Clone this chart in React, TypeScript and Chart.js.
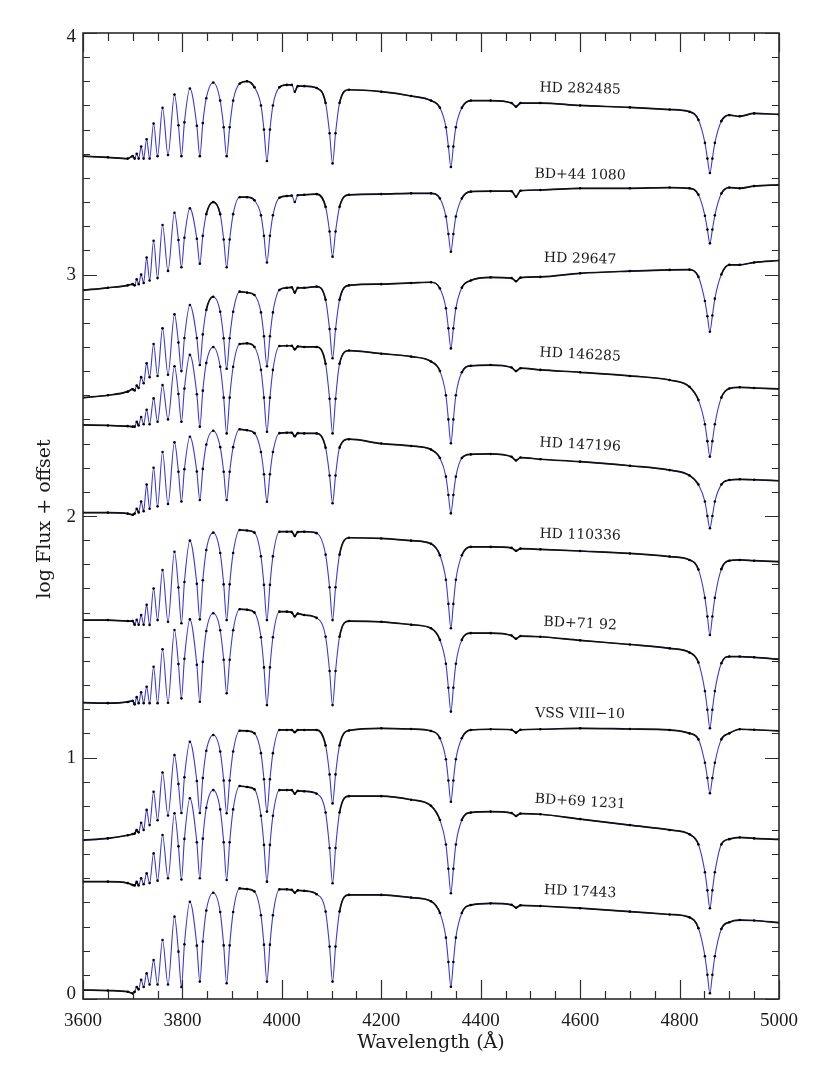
import React, { useEffect, useRef } from "react";
import { Chart, registerables } from "chart.js";

Chart.register(...registerables);

// Shared wavelength grid (Å)
const WAVELENGTHS = [
  3600, 3650, 3690, 3700, 3704, 3708, 3712, 3717, 3722, 3728,
  3734, 3742, 3750, 3760, 3771, 3784, 3792, 3798, 3804, 3815,
  3829, 3835, 3841, 3848, 3862, 3876, 3883, 3889, 3895, 3902,
  3915, 3930, 3945, 3958, 3964, 3970, 3976, 3982, 3995, 4010,
  4020, 4026, 4032, 4045, 4070, 4088, 4096, 4102, 4108, 4116,
  4135, 4200, 4260, 4300, 4318, 4330, 4335, 4340, 4345, 4350,
  4362, 4380, 4420, 4462, 4471, 4480, 4520, 4600, 4700, 4780,
  4820, 4838, 4851, 4856, 4861, 4866, 4871, 4884, 4900, 4921,
  4950, 5000,
];

const HD_282485 = [
  3.49, 3.485, 3.48, 3.49, 3.48, 3.5, 3.48, 3.53, 3.48, 3.56,
  3.48, 3.625, 3.49, 3.69, 3.495, 3.745, 3.618, 3.49, 3.63, 3.77,
  3.616, 3.49, 3.627, 3.73, 3.795, 3.72, 3.61, 3.49, 3.61, 3.72,
  3.79, 3.8, 3.775, 3.7, 3.6, 3.47, 3.6, 3.7, 3.775, 3.785,
  3.785, 3.757, 3.78, 3.78, 3.772, 3.71, 3.585, 3.46, 3.585, 3.71,
  3.765, 3.757, 3.739, 3.72, 3.69, 3.61, 3.53, 3.445, 3.53, 3.61,
  3.69, 3.72, 3.72, 3.71, 3.695, 3.71, 3.71, 3.7, 3.692, 3.683,
  3.674, 3.64, 3.545, 3.48, 3.42, 3.48, 3.545, 3.635, 3.66, 3.655,
  3.667, 3.663,
];
const BD_44_1080 = [
  2.935, 2.945, 2.955, 2.96, 2.955, 2.98, 2.96, 3.0, 2.965, 3.07,
  2.975, 3.14, 2.985, 3.205, 3.015, 3.256, 3.143, 3.03, 3.152, 3.274,
  3.148, 3.045, 3.16, 3.25, 3.3, 3.25, 3.145, 3.03, 3.145, 3.25,
  3.32, 3.32, 3.307, 3.245, 3.16, 3.05, 3.16, 3.245, 3.318, 3.325,
  3.327, 3.3, 3.328, 3.33, 3.333, 3.28, 3.178, 3.074, 3.178, 3.28,
  3.33, 3.333, 3.336, 3.336, 3.315, 3.24, 3.168, 3.094, 3.168, 3.24,
  3.315, 3.343, 3.345, 3.345, 3.322, 3.347, 3.35, 3.357, 3.357, 3.36,
  3.357, 3.33, 3.243, 3.186, 3.129, 3.186, 3.245, 3.335, 3.36, 3.357,
  3.366, 3.371,
];
const HD_29647 = [
  2.49, 2.5, 2.515, 2.525, 2.52, 2.54, 2.53, 2.575, 2.55, 2.632,
  2.575, 2.712, 2.58, 2.777, 2.585, 2.835, 2.718, 2.6, 2.737, 2.874,
  2.737, 2.625, 2.752, 2.853, 2.908, 2.846, 2.736, 2.61, 2.736, 2.846,
  2.929, 2.925, 2.915, 2.843, 2.744, 2.62, 2.744, 2.843, 2.936, 2.945,
  2.947, 2.925, 2.945, 2.945, 2.95, 2.895, 2.774, 2.653, 2.774, 2.895,
  2.955, 2.96, 2.965, 2.968, 2.942, 2.86, 2.777, 2.694, 2.777, 2.86,
  2.945, 2.975, 2.988, 2.985, 2.972, 2.987, 2.99, 3.005, 3.014, 3.019,
  3.02, 2.99, 2.89, 2.827, 2.763, 2.83, 2.9, 3.0, 3.04, 3.04,
  3.05, 3.058,
];
const HD_146285 = [
  2.377, 2.375, 2.372, 2.37, 2.37, 2.39, 2.375, 2.41, 2.38, 2.44,
  2.38, 2.487, 2.39, 2.542, 2.4, 2.62, 2.505, 2.39, 2.528, 2.667,
  2.504, 2.37, 2.519, 2.634, 2.7, 2.618, 2.49, 2.342, 2.49, 2.618,
  2.712, 2.715, 2.7, 2.605, 2.49, 2.349, 2.49, 2.605, 2.704, 2.705,
  2.705, 2.69, 2.702, 2.7, 2.7, 2.63, 2.485, 2.342, 2.485, 2.63,
  2.685, 2.672, 2.66, 2.64, 2.6, 2.5, 2.4, 2.301, 2.4, 2.5,
  2.595, 2.622, 2.625, 2.615, 2.6, 2.612, 2.605, 2.595, 2.58, 2.563,
  2.535, 2.48, 2.38, 2.31, 2.246, 2.31, 2.38, 2.49, 2.528, 2.533,
  2.53, 2.526,
];
const HD_147196 = [
  2.014, 2.014, 2.01, 2.005, 2.01, 2.03, 2.015, 2.06, 2.02, 2.13,
  2.03, 2.2, 2.04, 2.265, 2.05, 2.305, 2.183, 2.06, 2.194, 2.328,
  2.184, 2.066, 2.195, 2.296, 2.353, 2.285, 2.183, 2.066, 2.183, 2.285,
  2.359, 2.355, 2.343, 2.265, 2.173, 2.059, 2.173, 2.265, 2.343, 2.345,
  2.345, 2.33, 2.343, 2.342, 2.342, 2.283, 2.168, 2.053, 2.168, 2.283,
  2.318, 2.3, 2.29, 2.275, 2.24, 2.163, 2.087, 2.011, 2.087, 2.163,
  2.24, 2.255, 2.257, 2.245, 2.23, 2.242, 2.235, 2.225, 2.208, 2.19,
  2.168, 2.13, 2.06, 2.0, 1.949, 2.0, 2.06, 2.13, 2.149, 2.152,
  2.15, 2.146,
];
const HD_110336 = [
  1.569, 1.569, 1.565, 1.565, 1.55, 1.57, 1.55, 1.59, 1.55, 1.632,
  1.549, 1.7, 1.569, 1.776, 1.562, 1.852, 1.704, 1.556, 1.727, 1.898,
  1.719, 1.572, 1.734, 1.859, 1.931, 1.847, 1.717, 1.569, 1.717, 1.847,
  1.942, 1.94, 1.931, 1.833, 1.715, 1.569, 1.715, 1.833, 1.935, 1.935,
  1.935, 1.917, 1.934, 1.935, 1.929, 1.84, 1.705, 1.569, 1.705, 1.84,
  1.91, 1.907, 1.898, 1.885, 1.837, 1.736, 1.636, 1.535, 1.636, 1.736,
  1.837, 1.872, 1.872, 1.868, 1.856, 1.865, 1.862, 1.855, 1.845, 1.832,
  1.818, 1.778, 1.661, 1.584, 1.507, 1.584, 1.661, 1.78, 1.815, 1.818,
  1.815, 1.811,
];
const BD_71_92 = [
  1.227, 1.225, 1.23, 1.235, 1.22, 1.25, 1.225, 1.27, 1.225, 1.293,
  1.225, 1.376, 1.225, 1.448, 1.227, 1.528, 1.387, 1.245, 1.409, 1.572,
  1.384, 1.231, 1.396, 1.524, 1.597, 1.527, 1.405, 1.266, 1.405, 1.527,
  1.614, 1.612, 1.6, 1.498, 1.373, 1.217, 1.373, 1.498, 1.604, 1.604,
  1.6, 1.584, 1.596, 1.59, 1.578, 1.5, 1.358, 1.217, 1.358, 1.5,
  1.565, 1.562, 1.55, 1.535, 1.487, 1.388, 1.289, 1.19, 1.289, 1.388,
  1.487, 1.515, 1.515, 1.505, 1.492, 1.503, 1.5, 1.485, 1.468, 1.452,
  1.435, 1.393, 1.275, 1.198, 1.121, 1.198, 1.275, 1.39, 1.418, 1.418,
  1.415, 1.407,
];
const VSS_VIII_10 = [
  0.658, 0.665, 0.678, 0.683, 0.685, 0.7, 0.69, 0.73, 0.7, 0.783,
  0.72, 0.858, 0.74, 0.938, 0.76, 1.01, 0.89, 0.77, 0.918, 1.065,
  0.903, 0.77, 0.915, 1.028, 1.093, 1.025, 0.905, 0.769, 0.905, 1.025,
  1.111, 1.11, 1.1, 1.018, 0.91, 0.776, 0.91, 1.018, 1.114, 1.114,
  1.114, 1.105, 1.114, 1.114, 1.114, 1.05, 0.93, 0.81, 0.93, 1.05,
  1.112, 1.121, 1.118, 1.11, 1.08, 0.993, 0.905, 0.817, 0.905, 0.993,
  1.08, 1.114, 1.117, 1.115, 1.103, 1.115, 1.117, 1.121, 1.118, 1.114,
  1.1, 1.075, 0.978, 0.915, 0.852, 0.915, 0.978, 1.075, 1.1, 1.117,
  1.115, 1.11,
];
const BD_69_1231 = [
  0.486, 0.486, 0.48, 0.472, 0.47, 0.485, 0.47, 0.5, 0.475, 0.52,
  0.48, 0.603, 0.49, 0.679, 0.5, 0.769, 0.632, 0.495, 0.663, 0.831,
  0.649, 0.5, 0.664, 0.792, 0.865, 0.785, 0.649, 0.493, 0.649, 0.785,
  0.882, 0.878, 0.868, 0.759, 0.638, 0.486, 0.638, 0.759, 0.865, 0.865,
  0.865, 0.85, 0.862, 0.86, 0.85, 0.772, 0.625, 0.479, 0.625, 0.772,
  0.84, 0.84, 0.825, 0.8, 0.741, 0.64, 0.539, 0.438, 0.539, 0.64,
  0.741, 0.772, 0.776, 0.77, 0.758, 0.768, 0.765, 0.745, 0.72, 0.7,
  0.682, 0.64, 0.525, 0.45, 0.376, 0.45, 0.525, 0.64, 0.662, 0.669,
  0.665, 0.661,
];
const HD_17443 = [
  0.037, 0.035, 0.03, 0.023, 0.03, 0.05, 0.04, 0.08, 0.05, 0.106,
  0.06, 0.161, 0.06, 0.244, 0.06, 0.341, 0.196, 0.05, 0.227, 0.403,
  0.221, 0.072, 0.238, 0.366, 0.44, 0.36, 0.222, 0.065, 0.222, 0.36,
  0.458, 0.455, 0.445, 0.347, 0.225, 0.072, 0.225, 0.347, 0.454, 0.454,
  0.452, 0.44, 0.45, 0.448, 0.434, 0.362, 0.217, 0.072, 0.217, 0.362,
  0.431, 0.431, 0.42, 0.405, 0.356, 0.254, 0.153, 0.051, 0.153, 0.254,
  0.356, 0.389, 0.396, 0.39, 0.378, 0.388, 0.385, 0.376, 0.362, 0.35,
  0.338, 0.293, 0.177, 0.1, 0.024, 0.1, 0.177, 0.29, 0.318, 0.327,
  0.325, 0.316,
];

const STAR_NAMES = [
  "HD 282485", "BD+44 1080", "HD 29647", "HD 146285", "HD 147196",
  "HD 110336", "BD+71 92", "VSS VIII\u221210", "BD+69 1231", "HD 17443",
];
const SPECTRA = [
  HD_282485, BD_44_1080, HD_29647, HD_146285, HD_147196,
  HD_110336, BD_71_92, VSS_VIII_10, BD_69_1231, HD_17443,
];

// Star label anchor (data coords) and tilt (deg)
const LABEL_X = 4600;
const LABEL_Y = [3.768, 3.412, 3.064, 2.667, 2.294, 1.921, 1.553, 1.18, 0.816, 0.443];
const LABEL_TILT = [1.5, 1, 1.5, 3, 3, 1.5, 3, 0.5, 3.5, 2.5];

const X_TICKS = [3600, 3800, 4000, 4200, 4400, 4600, 4800, 5000];
const Y_TICKS = [0, 1, 2, 3, 4];
const X_MIN = 3600;
const X_MAX = 5000;
const Y_MIN = 0;
const Y_MAX = 4;

const MODEL_BLUE = "#3a3ad8";

const framePlugin = {
  id: "frameTicks",
  afterDatasetsDraw(chart: any) {
    const { ctx, chartArea: a, scales } = chart;
    const xs = scales.x;
    const ys = scales.y;
    ctx.save();
    ctx.strokeStyle = "#2b2b2b";
    ctx.lineWidth = 1.6;
    ctx.strokeRect(a.left, a.top, a.right - a.left, a.bottom - a.top);
    ctx.lineWidth = 1.2;
    ctx.beginPath();
    for (let w = X_MIN; w <= X_MAX + 0.1; w += 50) {
      const px = Math.round(xs.getPixelForValue(w)) + 0.5;
      const major = X_TICKS.includes(w);
      const L = major ? 19 : 8;
      ctx.moveTo(px, a.bottom);
      ctx.lineTo(px, a.bottom - L);
      ctx.moveTo(px, a.top);
      ctx.lineTo(px, a.top + L);
    }
    for (let i = 0; i <= 40; i++) {
      const v = i / 10;
      const py = Math.round(ys.getPixelForValue(v)) + 0.5;
      const major = i % 10 === 0;
      const L = major ? 14 : 7;
      ctx.moveTo(a.left, py);
      ctx.lineTo(a.left + L, py);
      ctx.moveTo(a.right, py);
      ctx.lineTo(a.right - L, py);
    }
    ctx.stroke();

    ctx.fillStyle = "#1a1a1a";
    ctx.font = '19px "Liberation Serif"';
    ctx.textAlign = "center";
    ctx.textBaseline = "middle";
    X_TICKS.forEach((w) => {
      ctx.fillText(String(w), xs.getPixelForValue(w), a.bottom + 22);
    });
    ctx.textAlign = "right";
    Y_TICKS.forEach((v) => {
      const py = ys.getPixelForValue(v);
      ctx.fillText(String(v), a.left - 7, v === 0 ? py - 5 : v === 4 ? py + 4 : py + 1);
    });

    ctx.font = '19px "DejaVu Serif"';
    ctx.textAlign = "center";
    ctx.fillText("Wavelength (\u00c5)", (a.left + a.right) / 2, a.bottom + 44);
    ctx.save();
    ctx.translate(a.left - 38, (a.top + a.bottom) / 2 + 3);
    ctx.rotate(-Math.PI / 2);
    ctx.fillText("log Flux + offset", 0, 0);
    ctx.restore();

    ctx.font = '14px "DejaVu Serif"';
    STAR_NAMES.forEach((name, i) => {
      ctx.save();
      ctx.translate(xs.getPixelForValue(LABEL_X), ys.getPixelForValue(LABEL_Y[i]));
      ctx.rotate((LABEL_TILT[i] * Math.PI) / 180);
      ctx.fillText(name, 0, 0);
      ctx.restore();
    });
    ctx.restore();
  },
};

export default function App() {
  const ref = useRef<HTMLCanvasElement | null>(null);
  useEffect(() => {
    if (!ref.current) return;
    const datasets: any[] = [];
    SPECTRA.forEach((flux, i) => {
      const pts = WAVELENGTHS.map((w, k) => ({ x: w, y: flux[k] }));
      datasets.push({
        label: STAR_NAMES[i] + " observed",
        data: pts,
        order: 0,
        borderColor: "#111",
        borderWidth: 1.7,
        pointRadius: 1.3,
        pointBackgroundColor: "#000",
        pointBorderWidth: 0,
        cubicInterpolationMode: "monotone",
        segment: {
          borderColor: (c: any) => {
            const dy = Math.abs(c.p1.parsed.y - c.p0.parsed.y);
            const dx = Math.abs(c.p1.parsed.x - c.p0.parsed.x) || 1;
            return dy / dx < 0.004 ? "#111" : "rgba(0,0,0,0)";
          },
        },
      });
      datasets.push({
        label: STAR_NAMES[i] + " model",
        data: pts,
        order: 1,
        borderColor: MODEL_BLUE,
        borderWidth: 1.1,
        pointRadius: 0,
        cubicInterpolationMode: "monotone",
      });
    });
    const chart = new Chart(ref.current, {
      type: "line",
      data: { datasets },
      options: {
        animation: false,
        responsive: false,
        devicePixelRatio: 1,
        parsing: false,
        normalized: true,
        layout: { padding: { left: 75, right: 43, top: 25, bottom: 68 } },
        plugins: { legend: { display: false }, tooltip: { enabled: false } },
        scales: {
          x: { type: "linear", min: X_MIN, max: X_MAX, display: false },
          y: { type: "linear", min: Y_MIN, max: Y_MAX, display: false },
        },
      },
      plugins: [framePlugin],
    });
    return () => chart.destroy();
  }, []);
  return (
    <div style={{ width: 814, height: 1059, background: "#fff" }}>
      <canvas ref={ref} width={814} height={1059} style={{ display: "block" }} />
    </div>
  );
}
